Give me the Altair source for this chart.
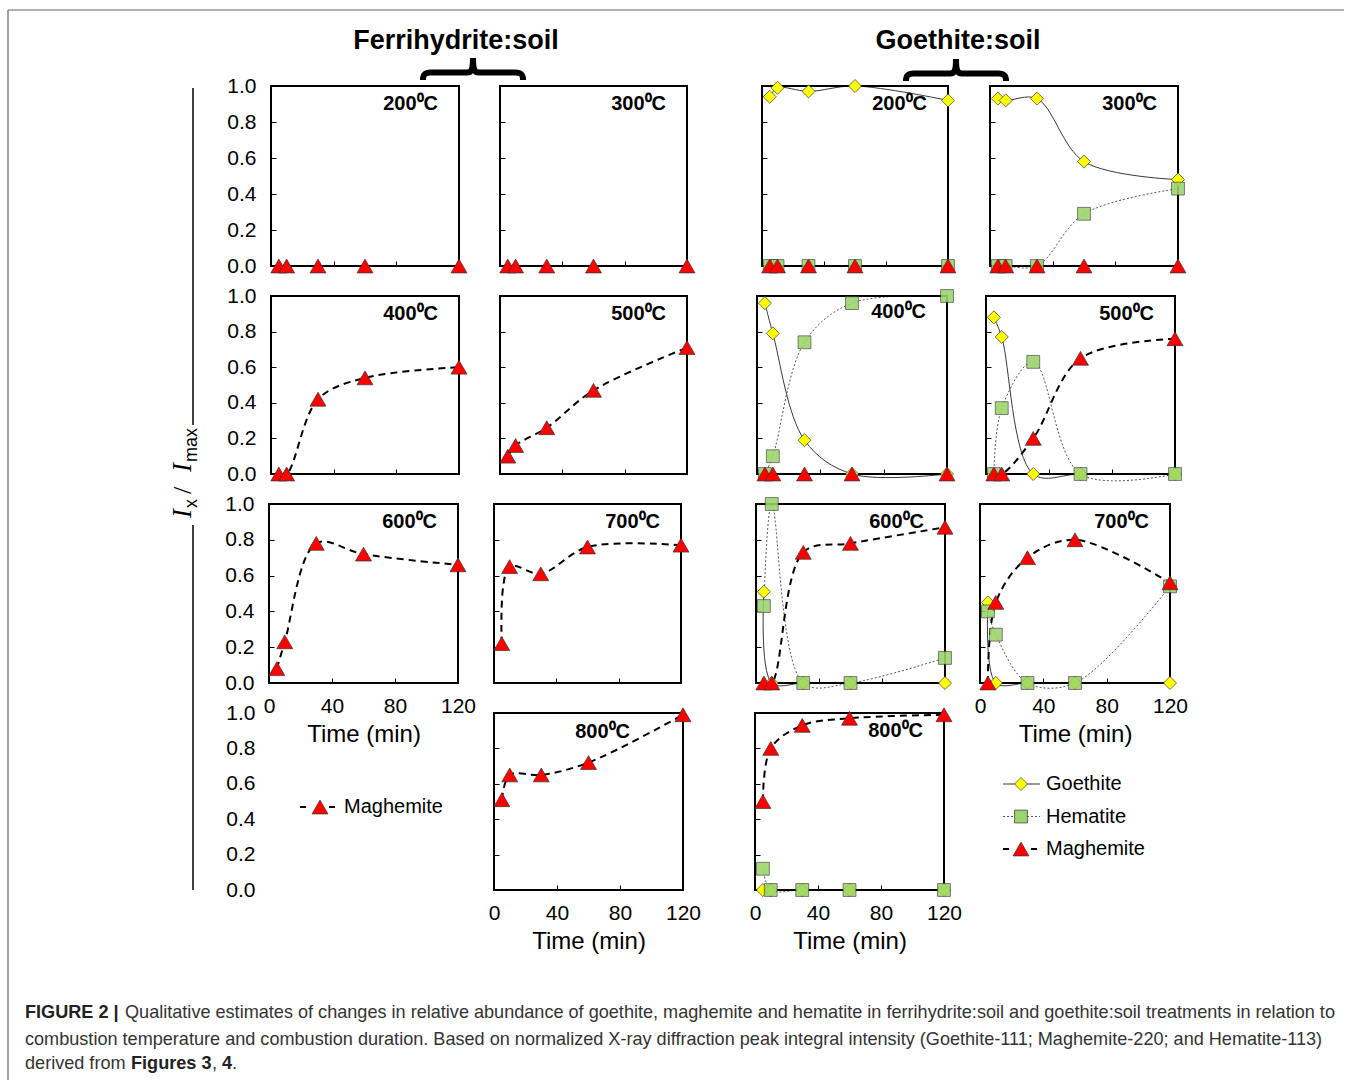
import altair as alt
import pandas as pd

FONT = "Liberation Sans"

# ---------------- data ----------------
times = [5, 10, 30, 60, 120]
x_ticks = [0, 40, 80, 120]
y_ticks = [0.0, 0.2, 0.4, 0.6, 0.8, 1.0]
minerals = ["Goethite", "Hematite", "Maghemite"]

# Ferrihydrite:soil (maghemite only)
fh_maghemite_200 = [0.00, 0.00, 0.00, 0.00, 0.00]
fh_maghemite_300 = [0.00, 0.00, 0.00, 0.00, 0.00]
fh_maghemite_400 = [0.00, 0.00, 0.42, 0.54, 0.60]
fh_maghemite_500 = [0.10, 0.16, 0.26, 0.47, 0.71]
fh_maghemite_600 = [0.08, 0.23, 0.78, 0.72, 0.66]
fh_maghemite_700 = [0.22, 0.65, 0.61, 0.76, 0.77]
fh_maghemite_800 = [0.51, 0.65, 0.65, 0.72, 0.99]

# Goethite:soil
gs_goethite_200 = [0.94, 0.99, 0.97, 1.00, 0.92]
gs_hematite_200 = [0.00, 0.00, 0.00, 0.00, 0.00]
gs_maghemite_200 = [0.00, 0.00, 0.00, 0.00, 0.00]
gs_goethite_300 = [0.93, 0.92, 0.93, 0.58, 0.48]
gs_hematite_300 = [0.00, 0.00, 0.00, 0.29, 0.43]
gs_maghemite_300 = [0.00, 0.00, 0.00, 0.00, 0.00]
gs_goethite_400 = [0.96, 0.79, 0.19, 0.00, 0.00]
gs_hematite_400 = [0.00, 0.10, 0.74, 0.96, 1.00]
gs_maghemite_400 = [0.00, 0.00, 0.00, 0.00, 0.00]
gs_goethite_500 = [0.88, 0.77, 0.00, 0.00, 0.00]
gs_hematite_500 = [0.00, 0.37, 0.63, 0.00, 0.00]
gs_maghemite_500 = [0.00, 0.00, 0.20, 0.65, 0.76]
gs_goethite_600 = [0.51, 0.00, 0.00, 0.00, 0.00]
gs_hematite_600 = [0.43, 1.00, 0.00, 0.00, 0.14]
gs_maghemite_600 = [0.00, 0.00, 0.73, 0.78, 0.87]
gs_goethite_700 = [0.45, 0.00, 0.00, 0.00, 0.00]
gs_hematite_700 = [0.40, 0.27, 0.00, 0.00, 0.54]
gs_maghemite_700 = [0.00, 0.45, 0.70, 0.80, 0.56]
gs_goethite_800 = [0.00, 0.00, 0.00, 0.00, 0.00]
gs_hematite_800 = [0.12, 0.00, 0.00, 0.00, 0.00]
gs_maghemite_800 = [0.50, 0.80, 0.93, 0.97, 0.99]

# ---------------- styles ----------------
STYLE = {
    "Goethite": dict(shape="diamond", fill="#FFFF00", size=170, dash=None, lw=0.9, lc="#222222", op=1.0),
    "Hematite": dict(shape="square", fill="#9CD46B", size=165, dash=[2, 2], lw=0.9, lc="#444444", op=0.88),
    "Maghemite": dict(shape="triangle-up", fill="#FF0000", size=255, dash=[7, 5], lw=2, lc="#000000", op=1.0),
}
one = pd.DataFrame({"z": [0]})
CAP = 18.1


def txt(text, x, y, size, weight="normal", align="left", angle=0, font=FONT,
        style="normal", color="black", baseline="middle"):
    return alt.Chart(one).mark_text(
        align=align, baseline=baseline, font=font, fontSize=size, fontWeight=weight,
        fontStyle=style, color=color, angle=angle
    ).encode(x=alt.value(x), y=alt.value(y), text=alt.value(text))


def rule(x, x2, y, y2, color="black", width=1.0):
    return alt.Chart(one).mark_rule(color=color, strokeWidth=width).encode(
        x=alt.value(x), x2=alt.value(x2), y=alt.value(y), y2=alt.value(y2))


BRACE = ("M -1 0.22 C -1 0.1 -0.96 0.07 -0.85 0.07 L -0.12 0.07 C -0.03 0.07 0 0.02 0 -0.22 "
         "C 0 0.02 0.03 0.07 0.12 0.07 L 0.85 0.07 C 0.96 0.07 1 0.1 1 0.22")


def brace(x, y):
    return alt.Chart(one).mark_point(shape=BRACE, size=10000, filled=False, color="black",
                                     strokeWidth=6, opacity=1).encode(x=alt.value(x), y=alt.value(y))


def panel(series, temp, dx, w, cellw, h, ylabels=False, xlabels=False, lab_dx=21, lab_dy=18,
          extra=None):
    rows = []
    for name, vals in series:
        for t, v in zip(times, vals):
            rows.append({"time": t, "value": v, "mineral": name})
    df = pd.DataFrame(rows)
    xax = alt.Axis(values=x_ticks, domain=False, grid=False, tickSize=5, offset=-5,
                   tickColor="black", tickWidth=1, labels=xlabels, labelFontSize=21,
                   labelPadding=12, labelFont=FONT, labelColor="black", labelFlush=False,
                   labelOverlap=False, titleFont=FONT, titleFontSize=24,
                   titleFontWeight="normal", titlePadding=6, titleColor="black")
    yax = alt.Axis(values=y_ticks, format=".1f", domain=False, grid=False, tickSize=5,
                   offset=-(dx + 5), tickColor="black", tickWidth=1, labels=ylabels,
                   labelFontSize=21, labelPadding=15, labelFont=FONT, labelColor="black",
                   labelFlush=False, labelOverlap=False)
    xscale = alt.Scale(domain=[0, 120], range=[dx, dx + w], nice=False, zero=False)
    if xlabels:
        xenc = alt.X("time:Q", scale=xscale, axis=xax, title="Time (min)")
    else:
        xenc = alt.X("time:Q", scale=xscale, axis=xax, title=None)
    yenc = alt.Y("value:Q", scale=alt.Scale(domain=[0, 1], nice=False), axis=yax, title=None)
    base = alt.Chart(df).encode(x=xenc, y=yenc)
    frame = alt.Chart(one).mark_rect(fillOpacity=0, stroke="black", strokeWidth=2).encode(
        x=alt.value(dx), x2=alt.value(dx + w), y=alt.value(0), y2=alt.value(h))
    layers = []
    for name, _ in series:
        s = STYLE[name]
        kw = dict(interpolate="catmull-rom", color=s["lc"], strokeWidth=s["lw"])
        if s["dash"]:
            kw["strokeDash"] = s["dash"]
        layers.append(base.transform_filter(alt.datum.mineral == name).mark_line(**kw))
    layers.append(frame)
    for name, _ in series:
        s = STYLE[name]
        layers.append(base.transform_filter(alt.datum.mineral == name).mark_point(
            shape=s["shape"], filled=True, fill=s["fill"], stroke="#333333",
            strokeWidth=0.7, size=s["size"], opacity=s["op"]))
    layers.append(txt(f"{temp}\u2070C", dx + w - lab_dx, lab_dy, 20, weight="bold", align="right"))
    if extra:
        layers += extra
    return alt.layer(*layers).properties(width=cellw, height=h)


# ---------------- decorations hosted by the first cell (origin = abs 269, 86) ----------------
deco = [
    # outer frame
    rule(-261, 1075, -76, -76, "#666666", 1.2),
    rule(-261, -261, -76, 994, "#666666", 1.2),
    # group headers
    txt("Ferrihydrite:soil", 187, -45, 27, weight="bold", align="center"),
    txt("Goethite:soil", 689, -45, 27, weight="bold", align="center"),
    brace(204, -17),
    brace(687, -16),
    # y title lines
    rule(-76, -76, 2, 339, "black", 1.5),
    rule(-76, -76, 439, 804, "black", 1.5),
    # y title I_x / I_max (rotated)
    txt("I", -78, 432, 27, angle=270, font="Liberation Serif", style="italic",
        baseline="alphabetic"),
    txt("x", -72, 422, 18, angle=270, baseline="alphabetic"),
    txt("/", -78, 408, 26, angle=270, font="Liberation Serif", baseline="alphabetic"),
    txt("I", -78, 386, 27, angle=270, font="Liberation Serif", style="italic",
        baseline="alphabetic"),
    txt("max", -72, 376, 18, angle=270, baseline="alphabetic"),
    # caption
    txt("FIGURE 2 |", -244, 927, CAP, weight="bold", color="#222222"),
    txt("Qualitative estimates of changes in relative abundance of goethite, maghemite and hematite "
        "in ferrihydrite:soil and goethite:soil treatments in relation to", -144, 927, CAP,
        color="#333333"),
    txt("combustion temperature and combustion duration. Based on normalized X-ray diffraction peak "
        "integral intensity (Goethite-111; Maghemite-220; and Hematite-113)", -244, 954, CAP,
        color="#333333"),
    txt("derived from", -244, 978, CAP, color="#333333"),
    txt("Figures 3", -138, 978, CAP, weight="bold", color="#222222"),
    txt(",", -57, 978, CAP, color="#333333"),
    txt("4", -47, 978, CAP, weight="bold", color="#222222"),
    txt(".", -37, 978, CAP, color="#333333"),
]

# cell widths per column (col starts at abs 269, 494, 755, 980)
C1, C2, C3, C4 = 225, 261, 225, 198

# ---------------- panels ----------------
F200 = panel([("Maghemite", fh_maghemite_200)], 200, 2, 188, C1, 180, ylabels=True, extra=deco)
F300 = panel([("Maghemite", fh_maghemite_300)], 300, 6, 187, C2, 180)
F400 = panel([("Maghemite", fh_maghemite_400)], 400, 2, 188, C1, 178, ylabels=True)
F500 = panel([("Maghemite", fh_maghemite_500)], 500, 6, 187, C2, 178)
F600 = panel([("Maghemite", fh_maghemite_600)], 600, 0, 189, C1, 179, ylabels=True, xlabels=True)
F700 = panel([("Maghemite", fh_maghemite_700)], 700, 0, 187, C2, 179)
F800 = panel([("Maghemite", fh_maghemite_800)], 800, 0, 189, C2, 177, xlabels=True,
             lab_dx=53, lab_dy=19)


def gp(t, g, hm, m, dx, w, h, **kw):
    cellw = kw.pop("cellw")
    return panel([("Goethite", g), ("Hematite", hm), ("Maghemite", m)], t, dx, w, cellw, h, **kw)


G200 = gp(200, gs_goethite_200, gs_hematite_200, gs_maghemite_200, 7, 186, 180, cellw=C3)
G300 = gp(300, gs_goethite_300, gs_hematite_300, gs_maghemite_300, 10, 188, 180, cellw=C4)
G400 = gp(400, gs_goethite_400, gs_hematite_400, gs_maghemite_400, 2, 190, 178, cellw=C3, lab_dy=16)
G500 = gp(500, gs_goethite_500, gs_hematite_500, gs_maghemite_500, 6, 189, 178, cellw=C4)
G600 = gp(600, gs_goethite_600, gs_hematite_600, gs_maghemite_600, 1, 189, 179, cellw=C3)
G700 = gp(700, gs_goethite_700, gs_hematite_700, gs_maghemite_700, 0, 190, 179, cellw=C4,
          xlabels=True)
G800 = gp(800, gs_goethite_800, gs_hematite_800, gs_maghemite_800, 0, 189, 177, cellw=C3,
          xlabels=True)

# ---------------- row-4 left cell: y labels + ferrihydrite legend ----------------
axis_layer = alt.Chart(pd.DataFrame({"v": y_ticks})).mark_point(opacity=0).encode(
    x=alt.value(0),
    y=alt.Y("v:Q", scale=alt.Scale(domain=[0, 1], nice=False), title=None,
            axis=alt.Axis(values=y_ticks, format=".1f", domain=False, ticks=False, grid=False,
                          labelFontSize=21, labelPadding=14, labelFont=FONT,
                          labelColor="black", labelFlush=False, labelOverlap=False)))
f_leg_df = pd.DataFrame({"mineral": ["Maghemite"]})
fy = alt.Y("mineral:N", scale=alt.Scale(type="point", domain=["Maghemite"], range=[94, 94],
                                        padding=0), axis=None)
f_leg = [
    alt.Chart(f_leg_df).mark_rule(color="black", strokeWidth=2, strokeDash=[6, 23]).encode(
        x=alt.value(31), x2=alt.value(66), y=fy),
    alt.Chart(f_leg_df).mark_point(shape="triangle-up", filled=True, fill="#FF0000",
                                   stroke="#333333", strokeWidth=0.7, size=255, opacity=1).encode(
        x=alt.value(51), y=fy),
    alt.Chart(f_leg_df).mark_text(align="left", baseline="middle", font=FONT, fontSize=20,
                                  color="black").encode(x=alt.value(75), y=fy, text="mineral:N"),
]
FLEG = alt.layer(axis_layer, *f_leg).resolve_scale(y="independent").properties(width=C1, height=177)

# ---------------- row-4 right cell: goethite:soil legend ----------------
g_leg_df = pd.DataFrame({"mineral": minerals})
gy = alt.Y("mineral:N", scale=alt.Scale(type="point", domain=minerals, range=[71, 136],
                                        padding=0), axis=None)
g_layers = []
for name in minerals:
    d = g_leg_df[g_leg_df.mineral == name]
    if name == "Maghemite":
        g_layers.append(alt.Chart(d).mark_rule(color="black", strokeWidth=2, strokeDash=[6, 22])
                        .encode(x=alt.value(23), x2=alt.value(57), y=gy))
    elif name == "Hematite":
        g_layers.append(alt.Chart(d).mark_rule(color="#444444", strokeWidth=0.9, strokeDash=[2, 2])
                        .encode(x=alt.value(23), x2=alt.value(60), y=gy))
    else:
        g_layers.append(alt.Chart(d).mark_rule(color="#222222", strokeWidth=0.9)
                        .encode(x=alt.value(23), x2=alt.value(60), y=gy))
for name in minerals:
    s = STYLE[name]
    d = g_leg_df[g_leg_df.mineral == name]
    g_layers.append(alt.Chart(d).mark_point(shape=s["shape"], filled=True, fill=s["fill"],
                                            stroke="#333333", strokeWidth=0.7, size=s["size"],
                                            opacity=1).encode(x=alt.value(41), y=gy))
g_layers.append(alt.Chart(g_leg_df).mark_text(align="left", baseline="middle", font=FONT,
                                              fontSize=20, color="black").encode(
    x=alt.value(66), y=gy, text="mineral:N"))
GLEG = alt.layer(*g_layers).properties(width=C4, height=177)

# ---------------- grid ----------------
cells = [
    F200, F300, G200, G300,
    F400, F500, G400, G500,
    F600, F700, G600, G700,
    FLEG, F800, G800, GLEG,
]

chart = alt.concat(
    *cells, columns=4, spacing={"row": 30, "column": 0}, bounds="flush", align="each"
).properties(
    padding={"left": 7, "top": 9, "right": 0, "bottom": 0},
    background="white",
).configure_view(strokeWidth=0, stroke="transparent")

chart.save("out.html", embed_options={"renderer": "svg", "actions": False})
